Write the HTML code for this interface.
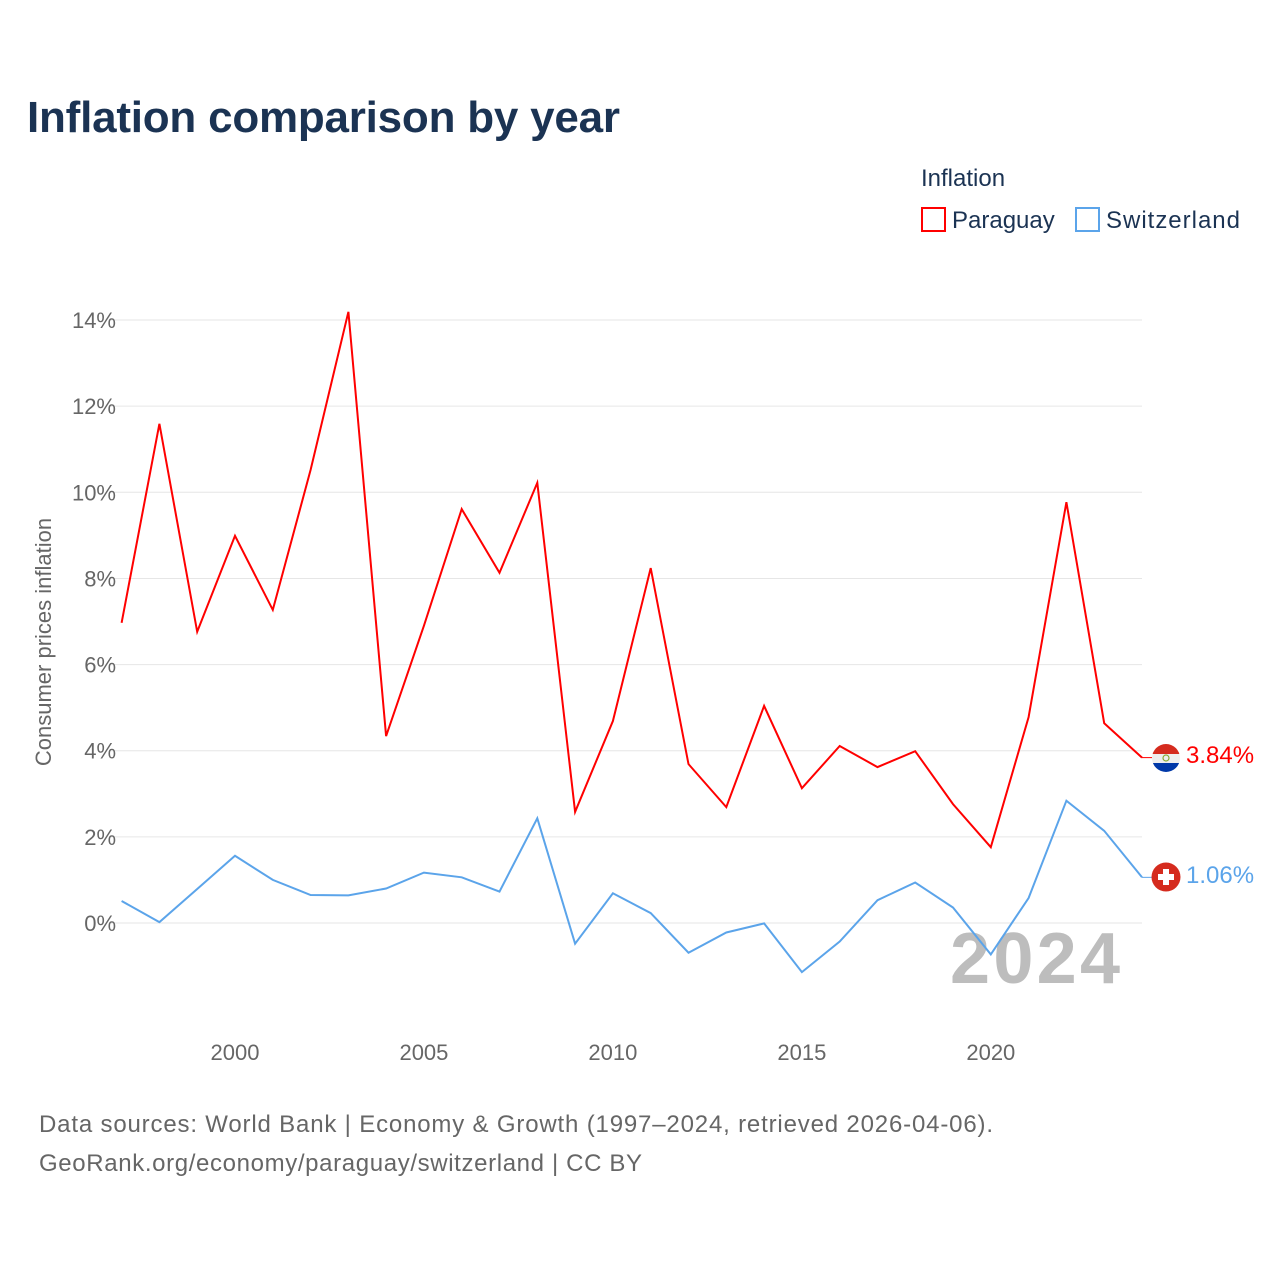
<!DOCTYPE html>
<html><head><meta charset="utf-8">
<style>
body{margin:0;background:#fff;font-family:"Liberation Sans",sans-serif;}
#wrap{position:relative;width:1280px;height:1280px;overflow:hidden;}
</style></head>
<body>
<div id="wrap">
<svg id="chart" width="1280" height="1280" xmlns="http://www.w3.org/2000/svg">
<text x="27" y="132" font-size="44" font-weight="bold" fill="#1b3353" textLength="593">Inflation comparison by year</text>
<text x="921" y="186" font-size="24" fill="#1b3353">Inflation</text>
<g><rect x="922" y="208" width="23" height="23" fill="none" stroke="#ff0000" stroke-width="2"/><text x="952" y="228" font-size="24" fill="#1b3353">Paraguay</text></g>
<g><rect x="1076" y="208" width="23" height="23" fill="none" stroke="#5ba4ea" stroke-width="2"/><text x="1106" y="228" font-size="24" fill="#1b3353" textLength="134">Switzerland</text></g>
<text transform="translate(51,642) rotate(-90)" text-anchor="middle" font-size="22" fill="#666">Consumer prices inflation</text>
<g id="grid"></g><g id="yticks"></g><g id="xticks"></g>
<text x="1120" y="983" text-anchor="end" font-size="72" font-weight="bold" fill="#bdbdbd" textLength="170">2024</text>
<g id="series"></g>
<g>
<clipPath id="c1"><circle cx="1166" cy="758" r="14"/></clipPath>
<g clip-path="url(#c1)"><rect x="1150" y="744" width="32" height="10" fill="#d52b1e"/><rect x="1150" y="754" width="32" height="9" fill="#eee"/><rect x="1150" y="763" width="32" height="10" fill="#0038a8"/><circle cx="1166" cy="758" r="3" fill="none" stroke="#8a3" stroke-width="1.2"/></g></g>
<g>
<circle cx="1166" cy="877" r="14.5" fill="#d52b1e"/><rect x="1163" y="869" width="6" height="16" fill="#fff"/><rect x="1158" y="874" width="16" height="6" fill="#fff"/></g>
<text x="1186" y="763" font-size="24" fill="#ff0000">3.84%</text>
<text x="1186" y="883" font-size="24" fill="#5ba4ea">1.06%</text>
<text x="39" y="1132" font-size="24" fill="#666" textLength="954">Data sources: World Bank | Economy &amp; Growth (1997–2024, retrieved 2026-04-06).</text>
<text x="39" y="1171" font-size="24" fill="#666" textLength="603">GeoRank.org/economy/paraguay/switzerland | CC BY</text>
</svg>
</div>
<script>
const years=[1997,1998,1999,2000,2001,2002,2003,2004,2005,2006,2007,2008,2009,2010,2011,2012,2013,2014,2015,2016,2017,2018,2019,2020,2021,2022,2023,2024];
const paraguay=[6.97,11.59,6.76,8.99,7.27,10.52,14.19,4.34,6.9,9.61,8.13,10.22,2.58,4.69,8.24,3.69,2.69,5.04,3.13,4.11,3.62,3.99,2.76,1.76,4.78,9.77,4.64,3.84];
const switzerland=[0.51,0.02,0.79,1.56,1.0,0.65,0.64,0.80,1.17,1.06,0.73,2.43,-0.48,0.69,0.23,-0.69,-0.22,-0.01,-1.14,-0.43,0.53,0.94,0.36,-0.73,0.58,2.84,2.14,1.06];
const yTicks=[0,2,4,6,8,10,12,14];
const xTicks=[2000,2005,2010,2015,2020];
const NS="http://www.w3.org/2000/svg";
const x=v=>121.6+(v-1997)*(1142-121.6)/27;
const y=v=>923-v*43.07;
function mk(tag,attrs,parent){const e=document.createElementNS(NS,tag);for(const k in attrs)e.setAttribute(k,attrs[k]);document.getElementById(parent).appendChild(e);return e;}
yTicks.forEach(t=>{
 const l=mk('line',{x1:110,x2:1142,y1:y(t),y2:y(t),stroke:'#e6e6e6','stroke-width':1},'grid');
 
 
 const tx=mk('text',{x:116,y:y(t)+8,'text-anchor':'end','font-size':22,fill:'#666'},'yticks');
 tx.textContent=t+'%';
 
 
});
xTicks.forEach(t=>{
 const tx=mk('text',{x:x(t),y:1060,'text-anchor':'middle','font-size':22,fill:'#666'},'xticks');
 tx.textContent=t;
 
 
});
function line(vals,color,name){
 const d=vals.map((v,i)=>(i?'L':'M')+x(years[i]).toFixed(1)+','+y(v).toFixed(1)).join('');
 const p=mk('path',{d:d,fill:'none',stroke:color,'stroke-width':2,'stroke-linejoin':'miter'},'series');
 
 
 const last=vals[vals.length-1];
 const c=mk('line',{x1:x(2024),x2:1152,y1:y(last),y2:y(last),stroke:color,'stroke-width':1},'series');
 
 
}
line(paraguay,'#ff0000','paraguay-line');
line(switzerland,'#5ba4ea','switzerland-line');
</script>
</body></html>
